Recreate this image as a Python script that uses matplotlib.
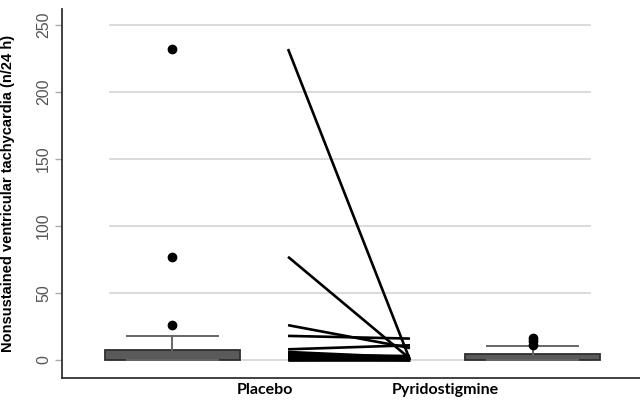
import matplotlib
matplotlib.use("Agg")
import matplotlib.pyplot as plt

# ---- data ----
groups = ["Placebo", "Pyridostigmine"]
# box summaries (q1, median, q3, whisker low, whisker high)
placebo_stats = [0, 1, 7.5, 0, 18]
pyrido_stats = [0, 1, 4.2, 0, 10.4]
placebo_outliers = [26, 77, 232]
pyrido_outliers = [11.5, 14, 16.5]
# paired patient values (placebo -> pyridostigmine)
paired_placebo = [232, 77, 26, 18, 8, 6, 5, 4, 3, 2, 1, 1, 0, 0]
paired_pyrido = [0, 1, 9, 16, 11, 2, 0, 3, 1, 0, 2, 0, 0, 1]
yticks = [0, 50, 100, 150, 200, 250]

# ---- positions / style ----
box_pos = [19.1, 81.4]
line_x = [39.1, 60.2]
label_x = [35.1, 66.3]

plt.rcParams['font.family'] = ['Liberation Sans', 'DejaVu Sans']
fig = plt.figure(figsize=(6.4, 4.0), dpi=100)
ax = fig.add_axes([0.097, 0.055, 0.903, 0.923])
ax.set_xlim(0, 100)
ax.set_ylim(-13.4, 262)

for t in yticks:
    ax.plot([8.3, 91.3], [t, t], color="#d8d8d8", lw=1.3, zorder=0)

stats = []
for s, o, lab in [(placebo_stats, placebo_outliers, groups[0]),
                  (pyrido_stats, pyrido_outliers, groups[1])]:
    stats.append(dict(q1=s[0], med=s[1], q3=s[2], whislo=s[3], whishi=s[4],
                      fliers=o, label=lab))
ax.bxp(stats, positions=box_pos, widths=23.4, patch_artist=True,
       capwidths=15.6, showcaps=True,
       boxprops=dict(facecolor="#5a5a5a", edgecolor="#2e2e2e", lw=1.3),
       medianprops=dict(color="#5a5a5a", lw=0),
       whiskerprops=dict(color="#666666", lw=1.4),
       capprops=dict(color="#666666", lw=1.4),
       flierprops=dict(marker="o", markerfacecolor="black",
                       markeredgecolor="black", markersize=6))

for a, b in zip(paired_placebo, paired_pyrido):
    ax.plot(line_x, [a, b], color="black", lw=1.9, solid_capstyle="butt", zorder=3)

ax.set_yticks(yticks)
ax.set_yticklabels([str(t) for t in yticks], rotation=90, va="center",
                   fontsize=11.5, color="#555555")
ax.tick_params(axis="y", length=5, width=1, color="#aaaaaa", pad=3)
ax.set_xticks([])
for x, g in zip(label_x, groups):
    ax.text(x, -17, g, ha="center", va="top", fontsize=11.5,
            fontweight="bold", family=["Lato", "DejaVu Sans"],
            transform=ax.transData)
ax.set_ylabel("Nonsustained ventricular tachycardia (n/24 h)",
              fontsize=10.5, fontweight="bold", labelpad=6)
ax.yaxis.set_label_coords(-0.081, 0.5)

for sp in ["top", "right"]:
    ax.spines[sp].set_visible(False)
for sp in ["left", "bottom"]:
    ax.spines[sp].set_color("#333333")
    ax.spines[sp].set_linewidth(1.3)

fig.savefig("out.png", dpi=100)
